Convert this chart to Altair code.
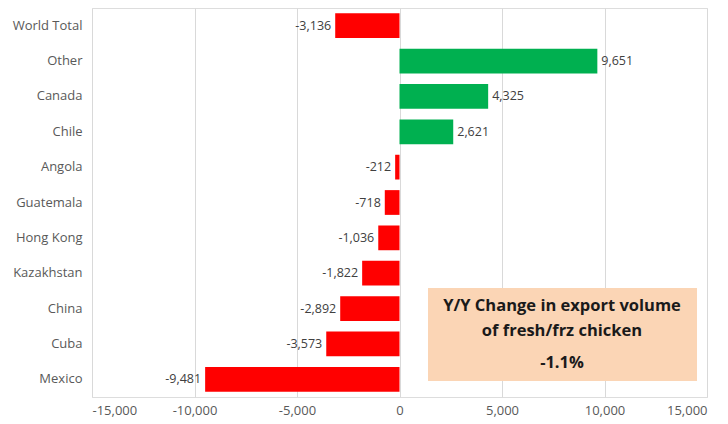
import altair as alt
import pandas as pd

countries = ["World Total", "Other", "Canada", "Chile", "Angola", "Guatemala",
             "Hong Kong", "Kazakhstan", "China", "Cuba", "Mexico"]
changes = [-3136, 9651, 4325, 2621, -212, -718, -1036, -1822, -2892, -3573, -9481]
labels = ["-3,136", "9,651", "4,325", "2,621", "-212", "-718", "-1,036",
          "-1,822", "-2,892", "-3,573", "-9,481"]
tick_values = [-15000, -10000, -5000, 0, 5000, 10000, 15000]
box_lines = ["Y/Y Change in export volume", "of fresh/frz chicken", "-1.1%"]

df = pd.DataFrame({"country": countries, "change": changes, "label": labels})
df["sign"] = ["pos" if v >= 0 else "neg" for v in changes]

FONT = "Open Sans"

y = alt.Y("country:N", sort=countries, title=None,
          scale=alt.Scale(paddingInner=0.3, paddingOuter=0.15),
          axis=alt.Axis(labelFont=FONT, labelFontSize=13, labelColor="#595959",
                        ticks=False, domain=False, labelPadding=10))
x = alt.X("change:Q", title=None,
          scale=alt.Scale(domain=[-15000, 15000], nice=False),
          axis=alt.Axis(values=tick_values,
                        labelExpr="replace(format(datum.value, ',.0f'), '\u2212', '-')",
                        labelFont=FONT, labelFontSize=13,
                        labelColor="#595959", ticks=False, domain=False,
                        gridColor="#D9D9D9", labelPadding=7))

bars = alt.Chart(df).mark_bar().encode(
    y=y, x=x,
    color=alt.Color("sign:N", scale=alt.Scale(domain=["pos", "neg"],
                    range=["#00B050", "#FF0000"]), legend=None),
)

pos_text = alt.Chart(df).transform_filter("datum.change >= 0").mark_text(
    align="left", dx=4, font=FONT, fontSize=12.5, color="#404040").encode(
    y=y, x=x, text="label:N")
neg_text = alt.Chart(df).transform_filter("datum.change < 0").mark_text(
    align="right", dx=-4, font=FONT, fontSize=12.5, color="#404040").encode(
    y=y, x=x, text="label:N")

box = alt.Chart(pd.DataFrame({"a": [0]})).mark_rect(color="#FBD5B5").encode(
    x=alt.value(336), x2=alt.value(605), y=alt.value(280), y2=alt.value(373))

box_df = pd.DataFrame({"t": box_lines, "yy": [298, 323, 355]})
box_text = alt.Chart(box_df).mark_text(
    font=FONT, fontSize=16.5, fontWeight="bold", color="#1a1a1a",
    align="center", baseline="middle").encode(
    x=alt.value(470), y=alt.Y("yy:Q", scale=None), text="t:N")

chart = alt.layer(bars, pos_text, neg_text, box, box_text).properties(
    width=615, height=389,
    autosize=alt.AutoSizeParams(type="none"),
    padding={"left": 84, "top": 0, "right": 5, "bottom": 27},
).configure_view(fill="#F2F1EC", stroke=None).configure(background="white")

chart.save("out.html", embed_options={"renderer": "svg", "actions": False})
